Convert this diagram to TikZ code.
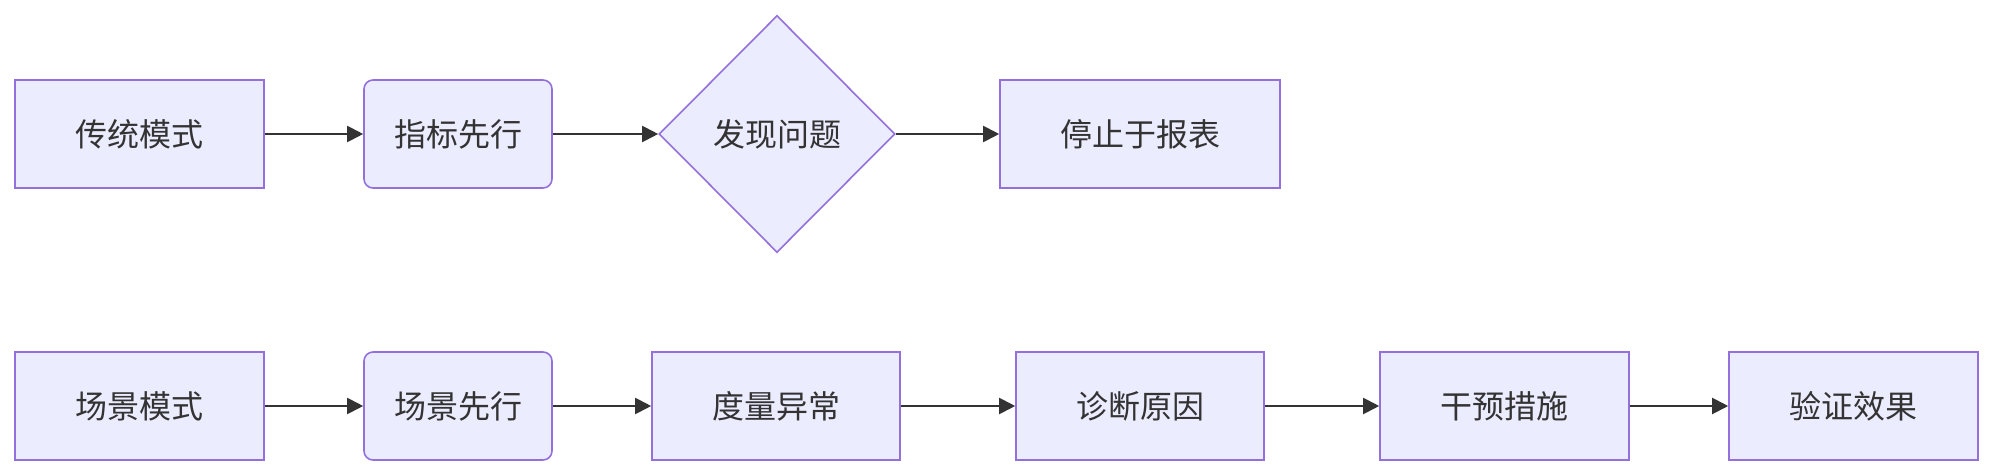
\documentclass[tikz,border=0pt]{standalone}
\usepackage{fontspec}
\newfontfamily\cjk{Noto Sans CJK SC}
\usetikzlibrary{shapes.geometric,arrows.meta}
\definecolor{nodefill}{HTML}{ECECFF}
\definecolor{nodeline}{HTML}{9370DB}
\definecolor{ink}{HTML}{333333}
\begin{document}
\begin{tikzpicture}[x=1pt,y=-1pt,
  base/.style={draw=nodeline,fill=nodefill,line width=1.6pt,text=ink,
    font=\cjk\fontsize{32}{38}\selectfont,inner sep=0pt,minimum height=108pt},
  sqbox/.style={base,rectangle,minimum width=249pt},
  rbox/.style={base,rectangle,rounded corners=9pt,minimum width=188pt},
  dbox/.style={base,diamond,minimum width=236pt,minimum height=237pt},
  flow/.style={draw=ink,line width=2pt,-{Triangle[length=16pt,width=16pt]}}]
\useasboundingbox (0,0) rectangle (1992,476);
\node[sqbox] (a1) at (139.5,134) {传统模式};
\node[rbox] (a2) at (458,134) {指标先行};
\node[dbox] (a3) at (777,134) {发现问题};
\node[sqbox,minimum width=280pt] (a4) at (1140,134) {停止于报表};
\node[sqbox] (b1) at (139.5,406) {场景模式};
\node[rbox] (b2) at (458,406) {场景先行};
\node[sqbox,minimum width=248pt] (b3) at (776,406) {度量异常};
\node[sqbox,minimum width=248pt] (b4) at (1140,406) {诊断原因};
\node[sqbox] (b5) at (1504.5,406) {干预措施};
\node[sqbox] (b6) at (1853.5,406) {验证效果};
\draw[flow] (a1) -- (a2);
\draw[flow] (a2) -- (a3);
\draw[flow] (a3) -- (a4);
\draw[flow] (b1) -- (b2);
\draw[flow] (b2) -- (b3);
\draw[flow] (b3) -- (b4);
\draw[flow] (b4) -- (b5);
\draw[flow] (b5) -- (b6);
\end{tikzpicture}
\end{document}
